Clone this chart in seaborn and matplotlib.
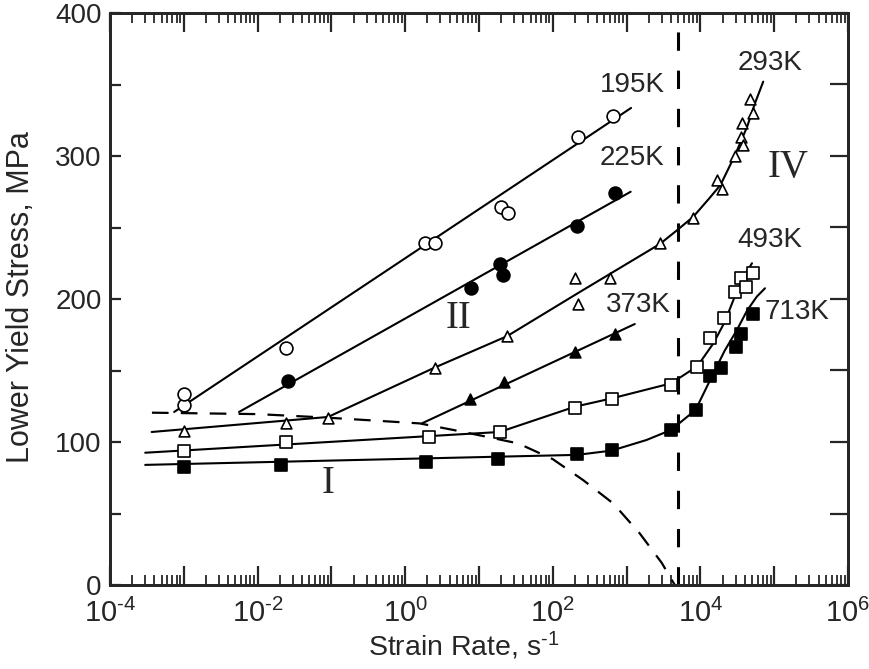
import numpy as np
import pandas as pd
import matplotlib
matplotlib.use("Agg")
import matplotlib.pyplot as plt
import seaborn as sns
from matplotlib.ticker import LogLocator, MultipleLocator, NullFormatter, FixedLocator

# ---------------- data ----------------
x195 = [1e-3, 1e-3, 0.024, 1.85, 2.5, 20, 25, 222, 660]
y195 = [126, 133.5, 165.5, 239.5, 239.5, 264.5, 260, 313.5, 328]

x225 = [0.026, 7.8, 19, 21, 214, 690]
y225 = [142.7, 208, 224.5, 217, 251, 274]

x293 = [1e-3, 0.024, 0.091, 2.5, 24, 200, 222, 600, 2830, 8000,
        1.7e4, 1.94e4, 2.9e4, 3.6e4, 3.8e4, 3.7e4, 4.7e4, 5.2e4]
y293 = [107.7, 113, 117, 152, 174, 215, 196.5, 215, 239, 256.4,
        283, 277, 300, 313.5, 307.7, 323, 339.6, 330]

x373 = [7.5, 21.5, 200, 692]
y373 = [130, 142, 163, 175.5]

x493 = [1e-3, 0.024, 2.1, 19.2, 200, 630, 4000, 9100, 1.35e4, 2.1e4, 2.95e4, 3.5e4, 4.2e4, 5.1e4]
y493 = [93.7, 99.8, 103.3, 107, 123.5, 130, 140, 152.5, 173, 186.5, 205, 214.5, 208.6, 218]

x713 = [1e-3, 0.021, 1.9, 18, 214, 630, 4000, 8600, 1.35e4, 1.9e4, 3.0e4, 3.6e4, 5.1e4]
y713 = [82.3, 84, 85.8, 88.3, 91.4, 94.4, 108.4, 122.4, 146, 151.5, 166.6, 175.5, 189.3]

# fitted curves (as drawn in the picture)
fit195_x = [7.4e-4, 1150]
fit195_y = [121, 333.6]
fit225_x = [5.6e-3, 1135]
fit225_y = [121, 275]
fit373_x = [1.68, 1290]
fit373_y = [113, 182.5]
fit293_x = [3.67e-4, 0.09, 2.5, 24, 234, 2830, 4800, 8000, 1.3e4, 1.87e4, 2.95e4, 4.3e4, 5.5e4, 7.1e4]
fit293_y = [107, 117.5, 152, 174, 205, 238.5, 248, 257.5, 270, 279.7, 300.7, 320.5, 337, 352]
fit493_x = [3e-4, 19, 200, 630, 4000, 9100, 1.5e4, 2.14e4, 3.04e4, 4e4, 5e4]
fit493_y = [92.5, 107, 124.7, 130.5, 141, 153, 169, 184, 204, 216.8, 225]
fit713_x = [3e-4, 214, 630, 1860, 4000, 8600, 1.5e4, 2.14e4, 3.1e4, 4.3e4, 5.8e4, 7.5e4]
fit713_y = [84, 91, 94, 101.4, 108.4, 122.4, 148, 164, 178, 192, 201.6, 207.5]

bound_x = [3.7e-4, 0.01, 0.09, 1.57, 4.5, 12.6, 34, 100, 257, 660, 1510, 3000, 4100, 4500]
bound_y = [120.5, 119.5, 117, 113, 108.4, 103.7, 99, 88, 73.4, 57, 36, 15.4, 3.5, 0]

vline_x = [5000, 5000]
vline_y = [0, 400]

labels = [("195K", 1180, 349.7), ("225K", 1180, 298.6), ("293K", 8.8e4, 365),
          ("493K", 8.8e4, 241), ("373K", 1430, 195.8), ("713K", 2.04e5, 191)]
regions = [("IV", 1.54e5, 292.3), ("II", 5.2, 186.7), ("I", 0.09, 71.3)]

xtick_exps = [-4, -2, 0, 2, 4, 6]
xticklabels = [r"$10^{\text{-4}}$", r"$10^{\text{-2}}$", r"$10^{0}$",
               r"$10^{2}$", r"$10^{4}$", r"$10^{6}$"]
yticks = [0, 100, 200, 300, 400]

# ---------------- style ----------------
sns.set_style("ticks")
plt.rcParams["font.family"] = ["Liberation Sans", "DejaVu Sans"]
plt.rcParams["mathtext.fontset"] = "custom"
plt.rcParams["mathtext.rm"] = "Liberation Sans"
plt.rcParams["mathtext.it"] = "Liberation Sans"
plt.rcParams["mathtext.default"] = "regular"

fig = plt.figure(figsize=(8.69, 6.69), dpi=100)
ax = fig.add_axes([110 / 869, 1 - 585 / 669, 738 / 869, 572 / 669])
ax.set_xscale("log")
ax.set_xlim(1e-4, 1e6)
ax.set_ylim(0, 400)

lw = 1.5
def line(xs, ys, **kw):
    df = pd.DataFrame({"x": xs, "y": ys})
    sns.lineplot(data=df, x="x", y="y", ax=ax, sort=False, estimator=None,
                 color="black", **kw)

for fx, fy in [(fit195_x, fit195_y), (fit225_x, fit225_y), (fit373_x, fit373_y),
               (fit293_x, fit293_y), (fit493_x, fit493_y), (fit713_x, fit713_y)]:
    line(fx, fy, lw=lw)

line(bound_x, bound_y, lw=1.6, dashes=(7.5, 5.5))
line(vline_x, vline_y, lw=2.2, dashes=(6, 6.5))

def pts(xs, ys, marker, filled, s):
    df = pd.DataFrame({"x": xs, "y": ys})
    sns.scatterplot(data=df, x="x", y="y", ax=ax, marker=marker, s=s,
                    facecolor="black" if filled else "white",
                    edgecolor="black", linewidth=1.2, zorder=5)

pts(x195, y195, "o", False, 85)
pts(x225, y225, "o", True, 85)
pts(x293, y293, "^", False, 60)
pts(x373, y373, "^", True, 60)
pts(x493, y493, "s", False, 75)
pts(x713, y713, "s", True, 75)

for t, x, y in labels:
    ax.text(x, y, t, fontsize=20, ha="center", va="center")
for t, x, y in regions:
    ax.text(x, y, t, fontsize=28, ha="center", va="center",
            family=["Liberation Serif", "DejaVu Serif"])

# axes, ticks
for sp in ax.spines.values():
    sp.set_linewidth(2.0)
    sp.set_visible(True)

major_all = [10.0 ** k for k in range(-4, 7)]
ax.xaxis.set_major_locator(FixedLocator(major_all))
ax.xaxis.set_minor_locator(LogLocator(base=10, subs=np.arange(2, 10), numticks=20))
ax.xaxis.set_minor_formatter(NullFormatter())
lab_map = dict(zip(xtick_exps, xticklabels))
ax.set_xticklabels([lab_map.get(k, "") for k in range(-4, 7)])
ax.set_yticks(yticks)
ax.yaxis.set_minor_locator(MultipleLocator(50))

ax.tick_params(axis="x", which="major", direction="in", length=14, width=1.6,
               top=True, bottom=True, labelsize=21, pad=10)
ax.tick_params(axis="x", which="minor", direction="in", length=7, width=1.3,
               top=True, bottom=True)
ax.tick_params(axis="y", which="both", direction="in", length=8, width=1.6,
               left=True, right=False, labelsize=20, pad=6)

ax2 = ax.twinx()
ax2.set_ylim(0, 400)
ax2.set_yticks(np.arange(0, 401, 50))
ax2.tick_params(axis="y", direction="in", length=13, width=1.6, labelright=False)
for sp in ax2.spines.values():
    sp.set_linewidth(2.0)

ax.set_xlabel(r"Strain Rate, s$^{\text{-1}}$", fontsize=20.5)
ax.set_ylabel("Lower Yield Stress, MPa", fontsize=22)
ax.xaxis.set_label_coords(0.48, -0.078)
ax.yaxis.set_label_coords(-0.100, 0.503)

fig.savefig("out.png", dpi=100)
